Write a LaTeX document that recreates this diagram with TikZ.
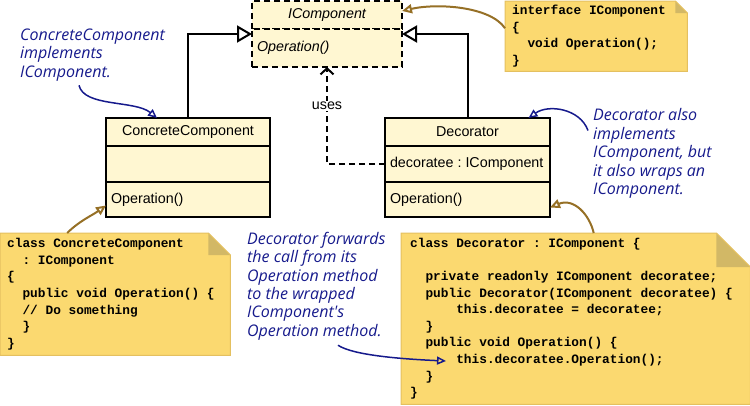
\documentclass[tikz,border=0pt]{standalone}
\usepackage{fontspec}
\setmainfont{Liberation Sans}
\newfontfamily\codefont{Liberation Mono}
\newfontfamily\handfont{Open Sans}
\usetikzlibrary{arrows.meta}
\frenchspacing
\definecolor{classfill}{RGB}{255,247,210}
\definecolor{notefill}{RGB}{251,217,112}
\definecolor{noteedge}{RGB}{228,192,96}
\definecolor{notefold}{RGB}{210,184,102}
\definecolor{brownline}{RGB}{150,112,38}
\definecolor{penblue}{RGB}{22,26,140}
\newcommand{\codeind}[1]{\hspace*{#1\fontcharwd\font`x}}
\newcommand{\codesetup}{\codefont\bfseries\fontsize{12.8}{16.6}\selectfont
  \fontdimen2\font=\fontcharwd\font`x \fontdimen3\font=0pt \fontdimen4\font=0pt}
\newcommand{\dogear}[2]{%
  \fill[white] ([xshift=-#2pt]#1.north east) -- (#1.north east) -- ([yshift=-#2pt]#1.north east) -- cycle;
  \fill[notefold] ([xshift=-#2pt]#1.north east) -- ([xshift=-#2pt,yshift=-#2pt]#1.north east) -- ([yshift=-#2pt]#1.north east) -- cycle;
  \draw[noteedge,line width=1pt] (#1.north west) -- ([xshift=-#2pt]#1.north east) -- ([yshift=-#2pt]#1.north east) -- (#1.south east) -- (#1.south west) -- cycle;}
\tikzset{
  classname/.style={draw=black,line width=2pt,fill=classfill,anchor=north west,outer sep=0pt,minimum height=28pt,inner sep=6pt,font=\fontsize{14.3}{17}\selectfont},
  classrow/.style={classname,inner xsep=5pt,align=flush left},
  ifdash/.style={dash pattern=on 6pt off 4pt},
  realize/.style={-{Triangle[open,length=15pt,width=17pt]},draw=black,line width=2pt},
  uses/.style={-{Straight Barb[length=6pt,width=13pt]},draw=black,line width=2pt,dash pattern=on 6pt off 4pt},
  codenote/.style={fill=notefill,anchor=north west,inner xsep=7pt,inner ysep=0pt,align=flush left,font=\codesetup},
  notearrow/.style={-{Triangle[open,length=10pt,width=9pt]},draw=brownline,line width=2pt},
  hand/.style={anchor=west,inner sep=0pt,align=left,text=penblue,font=\handfont\itshape\fontsize{16}{18.4}\selectfont},
  penarrow/.style={-{Triangle[open,length=9pt,width=8pt]},draw=penblue,line width=1.5pt}
}
\begin{document}
\begin{tikzpicture}[x=1pt,y=-1pt]
\useasboundingbox (0,0) rectangle (750,405);
% interface
\node[classname,ifdash,minimum width=150pt] (ic) at (252,1) {\itshape IComponent};
\node[classrow,ifdash,text width=140pt,minimum height=38pt] (ico) at (ic.south west) {\itshape Operation()};
% concrete component
\node[classname,minimum width=164pt] (cc) at (106,118) {ConcreteComponent};
\node[classrow,text width=154pt,minimum height=36pt] (cca) at (cc.south west) {};
\node[classrow,text width=154pt,minimum height=35pt] (cco) at (cca.south west) {Operation()};
% decorator
\node[classname,minimum width=165pt] (dec) at (385,118) {Decorator};
\node[classrow,text width=155pt,minimum height=36pt] (deca) at (dec.south west) {\mbox{decoratee : IComponent}};
\node[classrow,text width=155pt,minimum height=35pt] (deco) at (deca.south west) {Operation()};
\draw[realize] (cc.north) |- ([yshift=-5pt]ico.north west);
\draw[realize] (dec.north) |- ([yshift=-5pt]ico.north east);
\draw[uses] (deca.west) -| (ico.south) node[pos=0.8,fill=white,inner sep=1pt,font=\fontsize{14.3}{17}\selectfont] (usetxt) {uses};
% code notes
\node[codenote,text width=168pt,minimum height=70pt] (n1) at (505,1) {interface IComponent\\\{\\\codeind{2}void Operation();\\\}};
\dogear{n1}{12}
\node[codenote,text width=216pt,minimum height=122pt] (n2) at (0,233) {class ConcreteComponent\\\codeind{2}: IComponent\\\{\\\codeind{2}public void Operation() \{\\\codeind{2}// Do something\\\codeind{2}\}\\\}};
\dogear{n2}{22}
\node[codenote,inner xsep=9pt,text width=331pt,minimum height=171pt] (n3) at (401,233) {class Decorator : IComponent \{\\\mbox{}\\\codeind{2}private readonly IComponent decoratee;\\\codeind{2}public Decorator(IComponent decoratee) \{\\\codeind{6}this.decoratee = decoratee;\\\codeind{2}\}\\\codeind{2}public void Operation() \{\\\codeind{6}this.decoratee.Operation();\\\codeind{2}\}\\\}};
\dogear{n3}{34}
\coordinate (call) at (446,361);
\draw[notearrow] ([yshift=8pt]n1.west) .. controls +(-15,-22) and +(35,-8) .. ([yshift=4pt]ic.east);
\draw[notearrow] ([xshift=-48pt]n2.north) .. controls +(12,-12) and +(-14,10) .. ([yshift=-6pt]cco.west);
\draw[notearrow] ([xshift=18pt]n3.north) .. controls +(-4,-18) and +(24,-10) .. ([yshift=-8pt]deco.east);
% remarks
\node[hand] (t1) at (20,55) {ConcreteComponent\\implements\\IComponent.};
\node[hand] (t2) at (593,153.5) {Decorator also\\implements\\IComponent, but\\it also wraps an\\IComponent.};
\node[hand] (t3) at (247,286) {Decorator forwards\\the call from its\\Operation method\\to the wrapped\\IComponent's\\Operation method.};
\draw[penarrow] ([xshift=59pt,yshift=-4pt]t1.south west) .. controls +(5,22) and +(-22,-18) .. ([xshift=-31pt]cc.north);
\draw[penarrow] ([xshift=-5pt,yshift=23pt]t2.west) .. controls +(-8,-22) and +(20,-14) .. ([xshift=61pt]dec.north);
\draw[penarrow] ([xshift=91pt,yshift=-5pt]t3.south west) .. controls +(15,10) and +(-45,-2) .. (call);
\end{tikzpicture}
\end{document}
